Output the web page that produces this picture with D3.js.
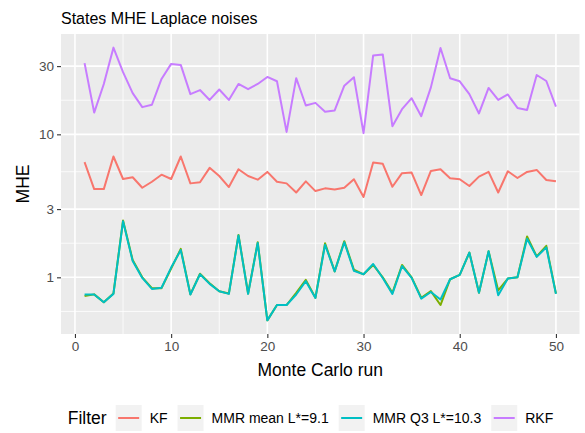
<!DOCTYPE html>
<html><head><meta charset="utf-8">
<script src="https://cdn.jsdelivr.net/npm/d3@7/dist/d3.min.js"></script>
<style>
body{margin:0;background:#fff}
svg{display:block}
text{font-family:"Liberation Sans",Arial,Helvetica,sans-serif}
</style>
</head><body>
<svg id="chart" width="585" height="433"></svg>
<script>
const runs = [1,2,3,4,5,6,7,8,9,10,11,12,13,14,15,16,17,18,19,20,21,22,23,24,25,26,27,28,29,30,31,32,33,34,35,36,37,38,39,40,41,42,43,44,45,46,47,48,49,50];
const kf = [6.39,4.14,4.14,7.0,4.87,5.01,4.23,4.66,5.22,4.87,7.0,4.54,4.62,5.83,5.11,4.28,5.70,5.11,4.82,5.46,4.66,4.54,3.92,4.69,4.01,4.19,4.12,4.23,4.85,3.65,6.35,6.22,4.30,5.35,5.40,3.76,5.55,5.70,4.93,4.85,4.35,5.06,5.46,3.92,5.52,4.95,5.46,5.64,4.79,4.69];
const mmrMean = [0.74,0.76,0.67,0.77,2.50,1.32,1.0,0.84,0.84,1.15,1.58,0.76,1.06,0.91,0.80,0.77,1.98,0.77,1.76,0.50,0.64,0.64,0.78,0.96,0.72,1.73,1.10,1.79,1.13,1.05,1.22,1.00,0.78,1.22,1.00,0.72,0.80,0.64,0.97,1.04,1.49,0.78,1.52,0.81,0.98,1.0,1.93,1.40,1.66,0.77];
const mmrQ3 = [0.758,0.758,0.669,0.766,2.47,1.30,0.99,0.83,0.845,1.17,1.55,0.758,1.05,0.90,0.80,0.766,1.96,0.766,1.74,0.50,0.64,0.64,0.758,0.94,0.718,1.69,1.10,1.76,1.11,1.05,1.24,0.99,0.766,1.20,0.99,0.71,0.79,0.70,0.97,1.04,1.49,0.78,1.52,0.75,0.98,1.0,1.86,1.39,1.62,0.766];
const rkf = [31.5,14.2,22.5,40.4,27.2,19.4,15.5,16.1,24.4,31.1,30.6,19.1,20.4,17.4,20.6,17.4,22.5,20.7,22.5,25.2,23.5,10.4,24.7,15.9,16.6,14.4,14.7,21.9,25.1,10.2,35.6,36.2,11.4,15.0,17.9,13.4,21.3,40.2,24.7,23.5,19.1,14.0,21.1,17.4,19.0,15.3,14.8,26.0,23.6,15.6];
const seriesNames = ["KF","MMR mean L*=9.1","MMR Q3 L*=10.3","RKF"];
const seriesColors = ["#F8766D","#7CAE00","#00BFC4","#C77CFF"];
const xTicks = [0,10,20,30,40,50];
const yTicks = [1,3,10,30];
const titleText = "States MHE Laplace noises";
const xLabel = "Monte Carlo run";
const yLabel = "MHE";
const legendTitle = "Filter";

const seriesValues = [kf, mmrMean, mmrQ3, rkf];
const series = seriesNames.map((name,k)=>({name, color:seriesColors[k], pts: runs.map((r,i)=>({x:r,y:seriesValues[k][i]}))}));

const svg = d3.select("#chart");
const W = 585, H = 433;
const P = {left:61, right:579.5, top:34, bottom:334};

// x scale with 5% expansion
const xExt = d3.extent(runs);
const xPad = (xExt[1]-xExt[0])*0.05;
const x = d3.scaleLinear().domain([xExt[0]-xPad, xExt[1]+xPad]).range([P.left, P.right]);

// y log scale with 5% expansion in log space
const allY = seriesValues.flat();
const lmin = Math.log10(d3.min(allY)), lmax = Math.log10(d3.max(allY));
const lpad = (lmax-lmin)*0.05;
const y = d3.scaleLog().domain([Math.pow(10,lmin-lpad), Math.pow(10,lmax+lpad)]).range([P.bottom, P.top]);

// panel
svg.append("rect").attr("x",P.left).attr("y",P.top).attr("width",P.right-P.left).attr("height",P.bottom-P.top).attr("fill","#EBEBEB");

// minor grid
const xMinor = [5,15,25,35,45];
const lt = yTicks.map(Math.log10);
const step = lt[1]-lt[0];
const ext = [lt[0]-step, ...lt, lt[lt.length-1]+step];
const yMinor = [];
for (let i=0;i<ext.length-1;i++) yMinor.push(Math.pow(10,(ext[i]+ext[i+1])/2));
const yDom = y.domain();
const g = svg.append("g");
g.selectAll(".xm").data(xMinor).join("line").attr("x1",d=>x(d)).attr("x2",d=>x(d)).attr("y1",P.top).attr("y2",P.bottom).attr("stroke","#fff").attr("stroke-width",0.8);
g.selectAll(".ym").data(yMinor.filter(v=>v>yDom[0]&&v<yDom[1])).join("line").attr("x1",P.left).attr("x2",P.right).attr("y1",d=>y(d)).attr("y2",d=>y(d)).attr("stroke","#fff").attr("stroke-width",0.8);
g.selectAll(".xM").data(xTicks).join("line").attr("x1",d=>x(d)).attr("x2",d=>x(d)).attr("y1",P.top).attr("y2",P.bottom).attr("stroke","#fff").attr("stroke-width",1.6);
g.selectAll(".yM").data(yTicks).join("line").attr("x1",P.left).attr("x2",P.right).attr("y1",d=>y(d)).attr("y2",d=>y(d)).attr("stroke","#fff").attr("stroke-width",1.6);

// lines
const line = d3.line().x(d=>x(d.x)).y(d=>y(d.y));
svg.append("g").selectAll("path").data(series).join("path")
  .attr("d",d=>line(d.pts)).attr("fill","none").attr("stroke",d=>d.color)
  .attr("stroke-width",2).attr("stroke-linejoin","round").attr("stroke-linecap","butt");

// axes
const xAxis = d3.axisBottom(x).tickValues(xTicks).tickSize(4).tickPadding(3);
const xa = svg.append("g").attr("transform",`translate(0,${P.bottom})`).call(xAxis);
const yAxis = d3.axisLeft(y).tickValues(yTicks).tickFormat(d3.format("d")).tickSize(4).tickPadding(3);
const ya = svg.append("g").attr("transform",`translate(${P.left},0)`).call(yAxis);
[xa,ya].forEach(a=>{
  a.select(".domain").remove();
  a.selectAll(".tick line").attr("stroke","#333").attr("stroke-width",1.1);
  a.selectAll(".tick text").attr("fill","#4D4D4D").style("font-size","13.5px").style("font-family",'"Liberation Sans",Arial,sans-serif');
});

// titles
svg.append("text").attr("x",P.left).attr("y",23.5).text(titleText).style("font-size","16px").attr("fill","#000");
svg.append("text").attr("x",(P.left+P.right)/2).attr("y",376).attr("text-anchor","middle").text(xLabel).style("font-size","17.5px").attr("fill","#000");
svg.append("text").attr("transform",`translate(29,${(P.top+P.bottom)/2}) rotate(-90)`).attr("text-anchor","middle").text(yLabel).style("font-size","17.5px").attr("fill","#000");

// legend
const lg = svg.append("g");
const keyW = 26, keyH = 26, cy = 418;
let cx = 0;
const lt1 = lg.append("text").attr("x",cx).attr("y",cy+6).text(legendTitle).style("font-size","17.5px").attr("fill","#000");
cx += lt1.node().getComputedTextLength() + 9;
series.forEach((s,k)=>{
  lg.append("rect").attr("x",cx).attr("y",cy-keyH/2).attr("width",keyW).attr("height",keyH).attr("fill","#F2F2F2");
  lg.append("line").attr("x1",cx+2.5).attr("x2",cx+keyW-2.5).attr("y1",cy).attr("y2",cy).attr("stroke",s.color).attr("stroke-width",2);
  cx += keyW + 8;
  const t = lg.append("text").attr("x",cx).attr("y",cy+5).text(s.name).style("font-size","14px").attr("fill","#000");
  cx += t.node().getComputedTextLength() + (k<series.length-1 ? 10 : 0);
});
const legendW = cx;
lg.attr("transform",`translate(${(W - legendW)/2 + 18},0)`);
</script>
</body></html>
